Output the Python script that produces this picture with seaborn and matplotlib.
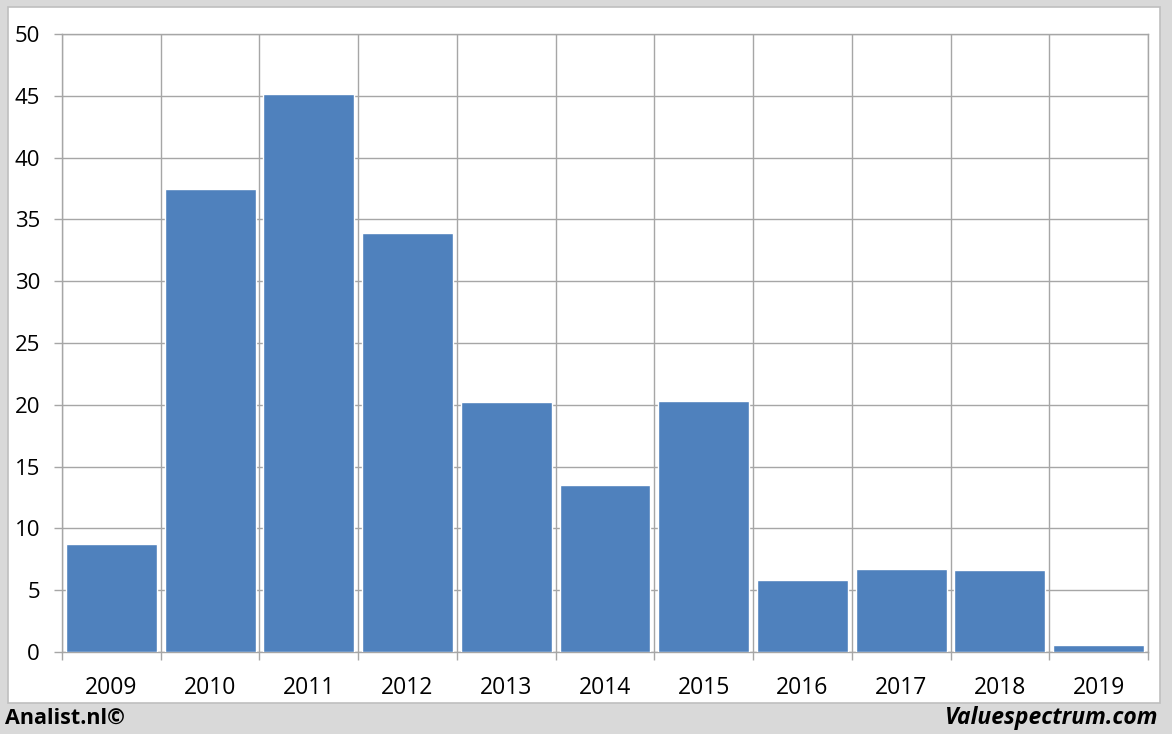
import matplotlib
matplotlib.use("Agg")
import matplotlib.pyplot as plt
import seaborn as sns
import pandas as pd
from matplotlib.patches import Rectangle
from matplotlib.ticker import FixedLocator

years = ["2009", "2010", "2011", "2012", "2013", "2014", "2015", "2016", "2017", "2018", "2019"]
values = [8.74, 37.45, 45.15, 33.9, 20.2, 13.5, 20.3, 5.8, 6.7, 6.6, 0.55]
y_ticks = [0, 5, 10, 15, 20, 25, 30, 35, 40, 45, 50]
footer_left = "Analist.nl©"
footer_right = "Valuespectrum.com"

sns.set_theme(style="white")
plt.rcParams["font.family"] = ["Open Sans", "DejaVu Sans"]

W, H = 1172, 734
fig = plt.figure(figsize=(W / 100, H / 100), dpi=100)
fig.patch.set_facecolor("#d9d9d9")
# white panel
panel = Rectangle((8 / W, (H - 703) / H), (1160 - 8) / W, (703 - 7) / H,
                  transform=fig.transFigure, facecolor="white",
                  edgecolor="#bfbfbf", linewidth=1.2, zorder=-10)
fig.add_artist(panel)

ax = fig.add_axes([62 / W, (H - 652) / H, 1086 / W, 618 / H])
ax.set_zorder(1)
ax.patch.set_alpha(0)
df = pd.DataFrame({"year": years, "value": values})
sns.barplot(data=df, x="year", y="value", color="#4f81bd", saturation=1, width=0.92,
            ax=ax, zorder=3)

ax.set_xlim(-0.5, len(years) - 0.5)
ax.set_ylim(0, 50)
ax.set_xlabel("")
ax.set_ylabel("")
ax.yaxis.set_major_locator(FixedLocator(y_ticks))
ax.set_yticklabels([str(t) for t in y_ticks])
ax.xaxis.set_minor_locator(FixedLocator([i - 0.5 for i in range(len(years) + 1)]))
ax.grid(True, axis="y", which="major", color="#a6a6a6", linewidth=1, zorder=0)
ax.grid(True, axis="x", which="minor", color="#a6a6a6", linewidth=1, zorder=0)
ax.set_axisbelow(True)
for s in ax.spines.values():
    s.set_color("#a6a6a6")
    s.set_linewidth(1)
ax.tick_params(axis="x", which="major", length=0, pad=17.5, labelsize=16.5, colors="black")
ax.tick_params(axis="x", which="minor", length=5.8, width=1, color="#a6a6a6",
               direction="out", bottom=True)
ax.tick_params(axis="y", which="major", length=5.8, width=1, color="#a6a6a6", pad=10,
               labelsize=16, labelcolor="black", left=True, direction="out")

fig.text(5 / W, (H - 718) / H, footer_left, fontsize=15.5, fontweight="bold",
         ha="left", va="center", color="black")
fig.text(1158 / W, (H - 718) / H, footer_right, fontsize=16.5, fontweight="bold",
         fontstyle="italic", ha="right", va="center", color="black")

fig.savefig("out.png", dpi=100, facecolor=fig.get_facecolor())
